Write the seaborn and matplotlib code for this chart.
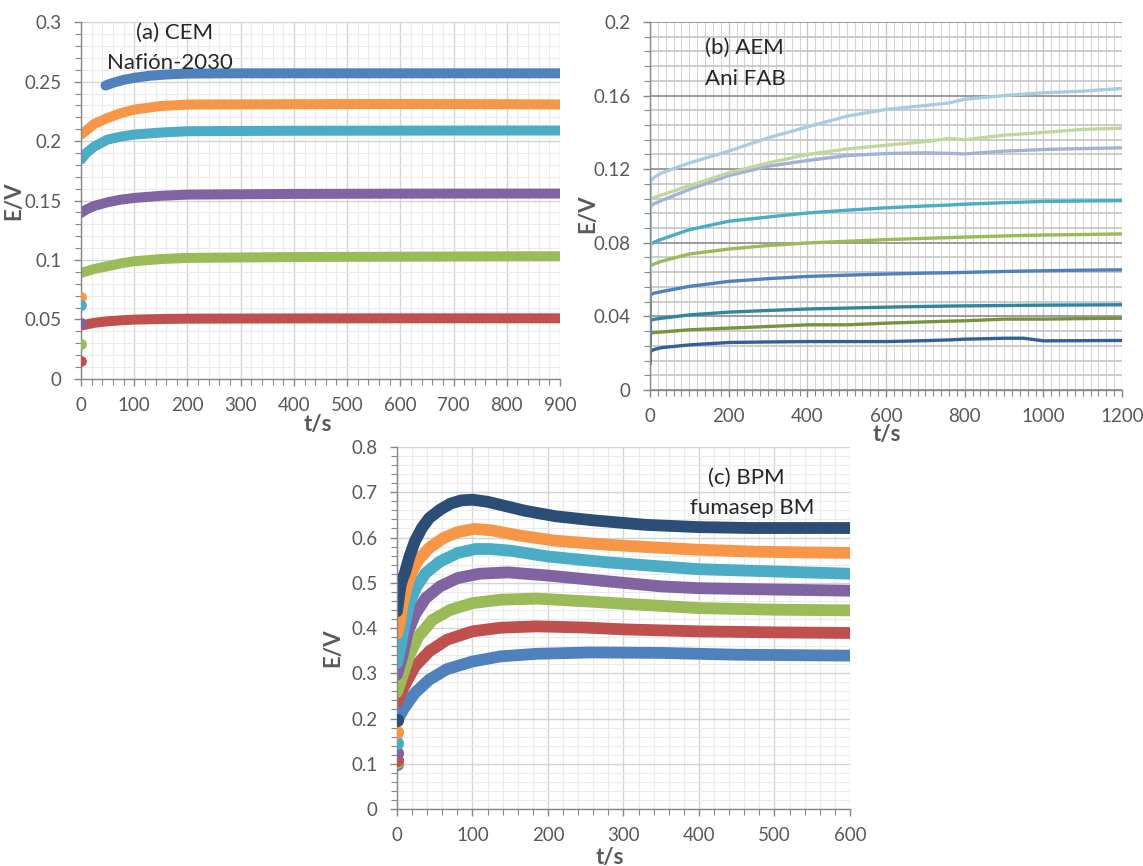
import matplotlib
matplotlib.use("Agg")
import matplotlib.pyplot as plt
import seaborn as sns
from matplotlib.ticker import MultipleLocator, FuncFormatter

# ---- panel (a) CEM Nafion-2030 ----
a_blue_t = [46, 60, 80, 100, 130, 160, 200, 300, 500, 700, 900]
a_blue_E = [0.2467, 0.2490, 0.2515, 0.2532, 0.2550, 0.2560, 0.2568, 0.2570, 0.2570, 0.2570, 0.2570]
a_t = [0, 10, 25, 50, 75, 100, 150, 200, 400, 600, 800, 900]
a_orange_E = [0.2055, 0.2090, 0.2145, 0.2195, 0.2235, 0.2265, 0.2295, 0.2307, 0.2310, 0.2312, 0.2310, 0.2308]
a_cyan_E = [0.1845, 0.1900, 0.1955, 0.2013, 0.2038, 0.2055, 0.2072, 0.2083, 0.2087, 0.2088, 0.2089, 0.2089]
a_purple_E = [0.1396, 0.1425, 0.1455, 0.1486, 0.1508, 0.1522, 0.1540, 0.1550, 0.1556, 0.1558, 0.1559, 0.1559]
a_green_E = [0.0892, 0.0905, 0.0925, 0.0948, 0.0972, 0.0990, 0.1008, 0.1018, 0.1025, 0.1028, 0.1031, 0.1032]
a_red_E = [0.0449, 0.0458, 0.0472, 0.0485, 0.0493, 0.0499, 0.0504, 0.0507, 0.0509, 0.0510, 0.0510, 0.0510]
a_first_E = [0.069, 0.062, 0.047, 0.029, 0.015]   # orange, cyan, purple, green, red at t=0

# ---- panel (b) AEM Ani FAB ----
b_t = [0, 1, 10, 30, 100, 200, 300, 400, 500, 600, 700, 760, 800, 900, 950, 1000, 1100, 1200]
b_lightblue = [0.060, 0.1134, 0.1155, 0.1180, 0.1234, 0.1298, 0.1370, 0.1430, 0.1488, 0.1525, 0.1546, 0.1560, 0.1580, 0.1600, 0.1608, 0.1615, 0.1624, 0.1639]
b_lightgreen = [0.058, 0.1035, 0.1045, 0.1060, 0.1110, 0.1180, 0.1234, 0.1280, 0.1310, 0.1330, 0.1350, 0.1367, 0.1360, 0.1385, 0.1392, 0.1400, 0.1416, 0.1423]
b_lavender = [0.055, 0.0998, 0.1012, 0.1030, 0.1090, 0.1165, 0.1216, 0.1247, 0.1274, 0.1285, 0.1289, 0.1286, 0.1283, 0.1298, 0.1302, 0.1307, 0.1312, 0.1316]
b_cyan = [0.040, 0.0790, 0.0803, 0.0820, 0.0871, 0.0917, 0.0940, 0.0962, 0.0977, 0.0990, 0.1000, 0.1005, 0.1010, 0.1018, 0.1021, 0.1025, 0.1027, 0.1029]
b_green = [0.058, 0.0672, 0.0685, 0.0700, 0.0739, 0.0766, 0.0785, 0.0799, 0.0808, 0.0817, 0.0824, 0.0828, 0.0831, 0.0837, 0.0840, 0.0842, 0.0845, 0.0848]
b_blue = [0.030, 0.0517, 0.0526, 0.0535, 0.0563, 0.0590, 0.0605, 0.0617, 0.0624, 0.0630, 0.0635, 0.0637, 0.0639, 0.0644, 0.0646, 0.0648, 0.0651, 0.0653]
b_teal = [0.025, 0.0378, 0.0384, 0.0390, 0.0408, 0.0423, 0.0432, 0.0440, 0.0445, 0.0450, 0.0454, 0.0456, 0.0457, 0.0459, 0.0460, 0.0461, 0.0462, 0.0463]
b_olive = [0.017, 0.0309, 0.0312, 0.0315, 0.0327, 0.0336, 0.0345, 0.0354, 0.0354, 0.0363, 0.0370, 0.0374, 0.0376, 0.0385, 0.0385, 0.0385, 0.0388, 0.0390]
b_darkblue = [0.014, 0.0209, 0.0220, 0.0230, 0.0245, 0.0258, 0.0261, 0.0263, 0.0263, 0.0263, 0.0268, 0.0272, 0.0276, 0.0281, 0.0281, 0.0267, 0.0268, 0.0269]

# ---- panel (c) BPM fumasep BM ----
c_navy_t = [0, 1.5, 3.3, 5, 7.6, 10.4, 16.6, 23.7, 33, 42.7, 57, 71, 85, 100, 120, 140, 170, 210, 260, 330, 400, 470, 540, 600]
c_navy_E = [0.437, 0.455, 0.477, 0.496, 0.510, 0.5215, 0.558, 0.5915, 0.621, 0.643, 0.6615, 0.675, 0.682, 0.6836, 0.679, 0.671, 0.659, 0.647, 0.638, 0.628, 0.623, 0.621, 0.621, 0.621]
c_orange_t = [0, 3.8, 7, 11.9, 19, 28.5, 42.7, 61.7, 80.6, 102, 125, 160, 210, 280, 330, 400, 470, 540, 600]
c_orange_E = [0.3875, 0.411, 0.448, 0.485, 0.5215, 0.551, 0.577, 0.599, 0.612, 0.619, 0.616, 0.605, 0.593, 0.584, 0.579, 0.573, 0.569, 0.567, 0.566]
c_cyan_t = [0, 4.7, 9.5, 16.6, 26, 38, 57, 80.6, 104, 123, 150, 200, 280, 350, 400, 500, 600]
c_cyan_E = [0.3227, 0.3595, 0.4037, 0.455, 0.492, 0.5215, 0.547, 0.566, 0.5746, 0.5746, 0.571, 0.558, 0.545, 0.536, 0.530, 0.525, 0.520]
c_purple_t = [0, 7, 14, 23.7, 38, 57, 80.6, 109, 147, 200, 280, 350, 400, 500, 600]
c_purple_E = [0.297, 0.337, 0.389, 0.4295, 0.466, 0.492, 0.5105, 0.520, 0.523, 0.516, 0.503, 0.492, 0.488, 0.485, 0.4825]
c_green_t = [0, 7, 16.6, 28.5, 47, 71, 100, 137.5, 185, 250, 300, 400, 500, 600]
c_green_E = [0.258, 0.293, 0.341, 0.3816, 0.418, 0.4405, 0.455, 0.4626, 0.465, 0.459, 0.4538, 0.444, 0.4405, 0.439]
c_red_t = [0, 9.5, 23.7, 42.7, 66, 100, 137.5, 185, 250, 300, 400, 500, 600]
c_red_E = [0.2357, 0.271, 0.315, 0.3484, 0.374, 0.3926, 0.4007, 0.4037, 0.401, 0.397, 0.3926, 0.3904, 0.389]
c_blue_t = [0, 9.5, 23.7, 42.7, 66, 100, 137.5, 185, 256, 350, 450, 600]
c_blue_E = [0.1952, 0.2232, 0.2564, 0.2858, 0.309, 0.326, 0.3374, 0.343, 0.346, 0.345, 0.341, 0.339]
c_first_E = [0.197, 0.170, 0.145, 0.123, 0.108, 0.105, 0.099]   # navy, orange, cyan, purple, red, green, blue at t=0

sns.set_theme(style="white")
plt.rcParams["font.family"] = ["Lato", "DejaVu Sans"]

TICK = "#595959"
fig = plt.figure(figsize=(11.43, 8.66), dpi=100)
ax_a = fig.add_axes([0.0709, 0.5624, 0.419, 0.412])
ax_b = fig.add_axes([0.5687, 0.5497, 0.413, 0.4249])
ax_c = fig.add_axes([0.3473, 0.0658, 0.3963, 0.418])


def style_axis(ax, xmax, xmaj, ymax, ymaj, ymin_step, xlab_pos, ylab_pos):
    ax.set_xlim(0, xmax)
    ax.set_ylim(0, ymax)
    ax.xaxis.set_major_locator(MultipleLocator(xmaj))
    ax.xaxis.set_minor_locator(MultipleLocator(20))
    ax.yaxis.set_major_locator(MultipleLocator(ymaj))
    ax.yaxis.set_minor_locator(MultipleLocator(ymin_step))
    ax.yaxis.set_major_formatter(FuncFormatter(lambda v, p: "%g" % round(v, 4)))
    for s in ["top", "right"]:
        ax.spines[s].set_visible(False)
    for s in ["left", "bottom"]:
        ax.spines[s].set_color("#868686")
        ax.spines[s].set_linewidth(1.0)
    ax.tick_params(which="major", direction="out", length=5, width=1, color="#868686",
                   labelsize=13.5, labelcolor=TICK, bottom=True, left=True)
    ax.tick_params(axis="x", which="major", pad=8)
    ax.tick_params(axis="y", which="major", pad=9)
    ax.tick_params(which="minor", direction="out", length=4, width=0.8, color="#868686",
                   bottom=True, left=True)
    ax.set_axisbelow(True)
    ax.set_xlabel("t/s", fontsize=16, fontweight="bold", color=TICK, va="center")
    ax.set_ylabel("E/V", fontsize=16, fontweight="bold", color=TICK, va="center")
    ax.xaxis.set_label_coords(*xlab_pos)
    ax.yaxis.set_label_coords(*ylab_pos)


# panel (a)
style_axis(ax_a, 900, 100, 0.3, 0.05, 0.01, (0.495, -0.129), (-0.140, 0.5))
ax_a.grid(which="major", color="#D4D4D4", linewidth=1.0)
ax_a.grid(which="minor", color="#EBEBEB", linewidth=0.8)
a_series = [(a_t, a_red_E, "#C0504D"), (a_t, a_green_E, "#9BBB59"),
            (a_t, a_purple_E, "#8064A2"), (a_t, a_cyan_E, "#4BACC6"),
            (a_t, a_orange_E, "#F79646"), (a_blue_t, a_blue_E, "#4F81BD")]
for t, e, c in a_series:
    sns.lineplot(x=t, y=e, ax=ax_a, color=c, linewidth=7.2, solid_capstyle="round")
a_dot_cols = ["#F79646", "#4BACC6", "#8064A2", "#9BBB59", "#C0504D"]
for y, c in zip(a_first_E, a_dot_cols):
    sns.scatterplot(x=[0], y=[y], ax=ax_a, color=c, s=60, linewidth=0, zorder=5)
ax_a.text(0.114, 0.969, "(a) CEM", transform=ax_a.transAxes, fontsize=16, va="center")
ax_a.text(0.054, 0.885, "Nafión-2030", transform=ax_a.transAxes, fontsize=16, va="center")

# panel (b)
style_axis(ax_b, 1200, 200, 0.2, 0.04, 0.008, (0.502, -0.122), (-0.131, 0.48))
ax_b.xaxis.grid(which="major", color="#C8C8C8", linewidth=1.0)
ax_b.xaxis.grid(which="minor", color="#D6D6D6", linewidth=0.8)
ax_b.yaxis.grid(which="major", color="#8C8C8C", linewidth=1.2)
ax_b.yaxis.grid(which="minor", color="#C4C4C4", linewidth=1.2)
b_series = [(b_darkblue, "#34609A"), (b_olive, "#77933C"), (b_teal, "#31859C"),
            (b_blue, "#4F81BD"), (b_green, "#9BBB59"), (b_cyan, "#4BACC6"),
            (b_lavender, "#A2B2D9"), (b_lightgreen, "#C3D69B"), (b_lightblue, "#A6CEE0")]
for e, c in b_series:
    sns.lineplot(x=b_t, y=e, ax=ax_b, color=c, linewidth=2.4)
ax_b.text(0.1165, 0.929, "(b) AEM", transform=ax_b.transAxes, fontsize=16, va="center")
ax_b.text(0.1165, 0.845, "Ani FAB", transform=ax_b.transAxes, fontsize=16, va="center")

# panel (c)
style_axis(ax_c, 600, 100, 0.8, 0.1, 0.02, (0.47, -0.133), (-0.141, 0.447))
ax_c.grid(which="major", color="#D4D4D4", linewidth=1.0)
ax_c.grid(which="minor", color="#EBEBEB", linewidth=0.8)
c_series = [(c_blue_t, c_blue_E, "#4F81BD"), (c_red_t, c_red_E, "#C0504D"),
            (c_green_t, c_green_E, "#9BBB59"), (c_purple_t, c_purple_E, "#8064A2"),
            (c_cyan_t, c_cyan_E, "#4BACC6"), (c_orange_t, c_orange_E, "#F79646"),
            (c_navy_t, c_navy_E, "#2C4D75")]
for t, e, c in c_series:
    sns.lineplot(x=t, y=e, ax=ax_c, color=c, linewidth=8.5, solid_capstyle="round")
c_dot_cols = ["#2C4D75", "#F79646", "#4BACC6", "#8064A2", "#C0504D", "#9BBB59", "#4F81BD"]
for y, c in zip(c_first_E[::-1], c_dot_cols[::-1]):
    sns.scatterplot(x=[0], y=[y], ax=ax_c, color=c, s=90, linewidth=0, zorder=5)
ax_c.text(0.687, 0.914, "(c) BPM", transform=ax_c.transAxes, fontsize=16, va="center")
ax_c.text(0.647, 0.831, "fumasep BM", transform=ax_c.transAxes, fontsize=16, va="center")

for ax in (ax_a, ax_b, ax_c):
    ax.set_xlim(0, ax.get_xlim()[1])

fig.savefig("out.png", dpi=100)
